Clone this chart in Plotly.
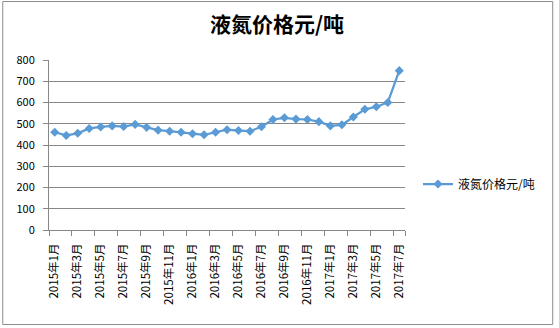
import plotly.graph_objects as go

# Monthly liquid-nitrogen price, yuan per tonne
months = [
    "2015年1月", "2015年2月", "2015年3月", "2015年4月", "2015年5月", "2015年6月",
    "2015年7月", "2015年8月", "2015年9月", "2015年10月", "2015年11月", "2015年12月",
    "2016年1月", "2016年2月", "2016年3月", "2016年4月", "2016年5月", "2016年6月",
    "2016年7月", "2016年8月", "2016年9月", "2016年10月", "2016年11月", "2016年12月",
    "2017年1月", "2017年2月", "2017年3月", "2017年4月", "2017年5月", "2017年6月",
    "2017年7月",
]
price = [
    460, 445, 455, 478, 485, 490, 487, 497, 483, 470, 465, 460,
    453, 448, 460, 472, 468, 465, 486, 520, 528, 522, 520, 510,
    490, 495, 532, 568, 580, 600, 750,
]
series_name = "液氮价格元/吨"
title_text = "液氮价格元/吨"

W, H = 559, 328
ML, MR, MT, MB = 49, 152, 60, 98
PW, PH = W - ML - MR, H - MT - MB

FONT = "Noto Sans CJK SC"
BLUE = "#5B9BD5"
GRID = "#878787"

fig = go.Figure()
fig.add_trace(go.Scatter(
    x=months, y=price, name=series_name, mode="lines+markers",
    line=dict(color=BLUE, width=2.25),
    marker=dict(symbol="diamond", size=7, color=BLUE),
))


def px_to_paper_x(px):
    return (px - ML) / PW


def px_to_paper_y(py):
    return (H - MB - py) / PH


# outer chart frame
fig.add_shape(
    type="rect", xref="paper", yref="paper",
    x0=px_to_paper_x(2.5), x1=px_to_paper_x(555.5),
    y0=px_to_paper_y(324.5), y1=px_to_paper_y(1.5),
    line=dict(color="#8C8C8C", width=1), fillcolor="rgba(0,0,0,0)", layer="below",
)

fig.update_layout(
    width=W, height=H,
    margin=dict(l=ML, r=MR, t=MT, b=MB),
    paper_bgcolor="white", plot_bgcolor="white",
    font=dict(family=FONT, color="black", size=11),
    title=dict(
        text="<b>" + title_text + "</b>", x=277 / W, xanchor="center",
        y=1 - 25 / H, yanchor="middle", xref="container", yref="container",
        font=dict(family=FONT, size=21, color="black"),
    ),
    showlegend=True,
    legend=dict(
        xref="container", yref="container",
        x=418 / W, xanchor="left", y=1 - 184 / H, yanchor="middle",
        font=dict(family=FONT, size=12, color="black"),
        bgcolor="rgba(0,0,0,0)", itemwidth=30,
    ),
    xaxis=dict(
        type="category", range=[-0.5, len(months) - 0.5],
        tickmode="array", tickvals=months[::2], ticktext=months[::2],
        tickson="boundaries", ticks="outside", ticklen=5, tickcolor=GRID,
        tickangle=-90, showgrid=False,
        ticklabelstandoff=8,
        showline=True, linecolor=GRID, linewidth=1,
        tickfont=dict(family=FONT, size=11.5, color="black"),
        fixedrange=True,
    ),
    yaxis=dict(
        range=[0, 800], dtick=100, tick0=0,
        showgrid=True, gridcolor=GRID, gridwidth=1,
        showline=True, linecolor=GRID, linewidth=1,
        ticks="outside", ticklen=5, tickcolor=GRID,
        ticklabelstandoff=6,
        zeroline=False,
        tickfont=dict(family=FONT, size=11, color="black"),
        fixedrange=True,
    ),
)

fig.write_html("out.html")
